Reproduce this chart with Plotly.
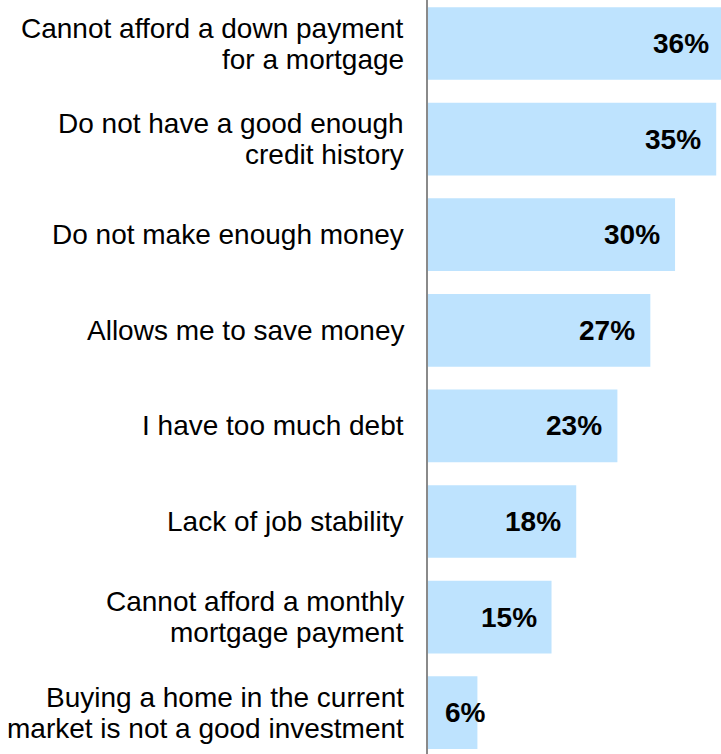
import plotly.graph_objects as go

# Reasons for renting rather than buying
categories = [
    "Cannot afford a down payment<br>for a mortgage",
    "Do not have a good enough<br>credit history",
    "Do not make enough money",
    "Allows me to save money",
    "I have too much debt",
    "Lack of job stability",
    "Cannot afford a monthly<br>mortgage payment",
    "Buying a home in the current<br>market is not a good investment",
]
values = [36, 35, 30, 27, 23, 18, 15, 6]
value_labels = ["36%", "35%", "30%", "27%", "23%", "18%", "15%", "6%"]

positions = list(range(len(categories)))
BAR_COLOR = "#BEE3FE"
FONT = "Liberation Sans, Arial, sans-serif"
X_MAX = 35.58          # visible end of the value axis
LINE_GAP = 31          # px between lines of a category label

fig = go.Figure(
    go.Bar(
        x=values,
        y=positions,
        orientation="h",
        width=0.76,
        marker=dict(color=BAR_COLOR, line=dict(width=0)),
        hoverinfo="skip",
    )
)

annotations = []

# Category labels, one annotation per line so the line spacing stays tight
for pos, cat in zip(positions, categories):
    lines = cat.split("<br>")
    n = len(lines)
    for i, line in enumerate(lines):
        offset = ((n - 1) / 2 - i) * LINE_GAP
        annotations.append(dict(
            x=0, y=pos, xref="paper", yref="y", text=line, showarrow=False,
            xanchor="right", yanchor="middle", xshift=-22, yshift=offset,
            font=dict(family=FONT, size=28, color="#000000"),
        ))

# Value labels: right-aligned inside the bar end; short bars get the label near the axis
for pos, val, lab in zip(positions, values, value_labels):
    if val >= 10:
        annotations.append(dict(
            x=val / X_MAX, y=pos, xref="paper", yref="y", text=f"<b>{lab}</b>",
            showarrow=False, xanchor="right", xshift=-13,
            font=dict(family=FONT, size=28, color="#000000"),
        ))
    else:
        annotations.append(dict(
            x=0, y=pos, xref="paper", yref="y", text=f"<b>{lab}</b>",
            showarrow=False, xanchor="left", xshift=15,
            font=dict(family=FONT, size=28, color="#000000"),
        ))

fig.update_layout(
    width=721,
    height=754,
    margin=dict(l=428, r=0, t=0, b=0),
    paper_bgcolor="white",
    plot_bgcolor="white",
    showlegend=False,
    annotations=annotations,
    xaxis=dict(range=[0, X_MAX], visible=False, fixedrange=True),
    yaxis=dict(
        range=[7.432, -0.455],
        tickmode="array",
        tickvals=positions,
        showticklabels=False,
        showline=True,
        linecolor="#8A8A8A",
        linewidth=2,
        showgrid=False,
        zeroline=False,
        ticks="",
        fixedrange=True,
    ),
)

fig.write_html("out.html")
